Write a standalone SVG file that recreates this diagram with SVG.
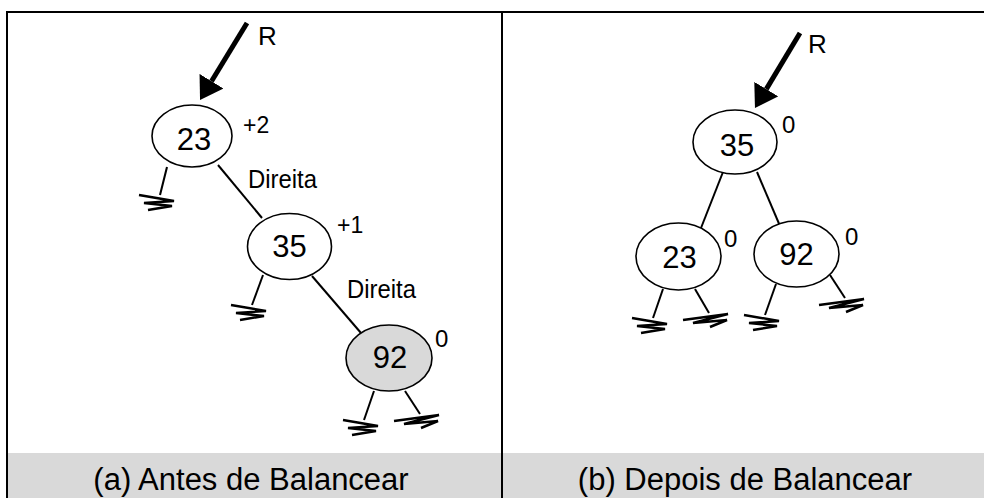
<svg xmlns="http://www.w3.org/2000/svg" xmlns:xlink="http://www.w3.org/1999/xlink" width="984" height="498" viewBox="0 0 984 498">
<style>
  text { font-family: "Liberation Sans", Arial, sans-serif; fill: #000; }
  .node { fill: #fff; stroke: #000; stroke-width: 1.6; }
  .gray { fill: #d9d9d9; }
  .num { font-size: 31px; text-anchor: middle; }
  .bal { font-size: 23px; }
  .zero { font-size: 24px; }
  .lbl { font-size: 25px; }
  .cap { font-size: 31px; text-anchor: middle; }
  .edge { stroke: #000; stroke-width: 2; fill: none; }
  .ptr { stroke: #000; stroke-width: 5; fill: none; }
  .gnd { stroke: #000; stroke-width: 2.5; fill: none; stroke-linejoin: miter; }
</style>
<defs>
  <marker id="head" markerUnits="userSpaceOnUse" markerWidth="22" markerHeight="28" viewBox="0 0 22 28" refX="0" refY="14" orient="auto">
    <path d="M0,0 L22,14 L0,28 z" fill="#000"/>
  </marker>
  <path id="gndL" class="gnd" d="M-21,0 L14,6 L-16,8 L12,11 L-12,15"/>
  <path id="gndR" class="gnd" d="M-26,7 L19,1 L-16,10 L18,7 L1,14"/>
</defs>

<!-- frame -->
<g id="frame">
  <rect x="8" y="453" width="976" height="45" fill="#d9d9d9"/>
  <line x1="6" y1="12" x2="984" y2="12" stroke="#000" stroke-width="2"/>
  <line x1="7" y1="11" x2="7" y2="498" stroke="#000" stroke-width="2"/>
  <line x1="502" y1="11" x2="502" y2="498" stroke="#000" stroke-width="2"/>
</g>

<g id="connectors">
  <!-- panel a -->
  <line class="ptr" x1="247" y1="23" x2="211.5" y2="81.2" marker-end="url(#head)"/>
  <line class="edge" x1="218" y1="165" x2="262" y2="218"/>
  <line class="edge" x1="312" y1="276" x2="361" y2="333"/>
  <line class="edge" x1="167" y1="167" x2="160" y2="195"/>
  <line class="edge" x1="263" y1="275" x2="252" y2="305"/>
  <line class="edge" x1="374" y1="391" x2="364" y2="420"/>
  <line class="edge" x1="405" y1="391" x2="420" y2="414"/>
  <use xlink:href="#gndL" x="160" y="195"/>
  <use xlink:href="#gndL" x="252" y="305"/>
  <use xlink:href="#gndL" x="364" y="420"/>
  <use xlink:href="#gndR" x="420" y="414"/>
  <!-- panel b -->
  <line class="ptr" x1="800" y1="33" x2="766.3" y2="89.1" marker-end="url(#head)"/>
  <line class="edge" x1="723" y1="172" x2="701" y2="228"/>
  <line class="edge" x1="757" y1="172" x2="780" y2="226"/>
  <line class="edge" x1="663" y1="289" x2="653" y2="318"/>
  <line class="edge" x1="695" y1="289" x2="709" y2="313"/>
  <line class="edge" x1="776" y1="284" x2="765" y2="315"/>
  <line class="edge" x1="830" y1="275" x2="845" y2="298"/>
  <use xlink:href="#gndL" x="653" y="318"/>
  <use xlink:href="#gndR" x="709" y="313"/>
  <use xlink:href="#gndL" x="765" y="315"/>
  <use xlink:href="#gndR" x="845" y="298"/>
</g>

<!-- labels -->
<text x="258" y="45" style="font-size:26px">R</text>
<text x="808" y="53" style="font-size:26px">R</text>
<text class="lbl" x="248" y="188" textLength="69" lengthAdjust="spacingAndGlyphs">Direita</text>
<text class="lbl" x="347" y="298" textLength="69" lengthAdjust="spacingAndGlyphs">Direita</text>

<!-- panel a nodes -->
<g id="a23">
  <ellipse class="node" cx="192" cy="136" rx="40" ry="31"/>
  <text class="num" x="194" y="150">23</text>
  <text class="bal" x="243" y="133">+2</text>
</g>
<g id="a35">
  <ellipse class="node" cx="289.5" cy="246.5" rx="42" ry="33"/>
  <text class="num" x="289.5" y="257">35</text>
  <text class="bal" x="337" y="233">+1</text>
</g>
<g id="a92">
  <ellipse class="node gray" cx="389" cy="358" rx="43" ry="33"/>
  <text class="num" x="390" y="368">92</text>
  <text class="zero" x="435" y="347">0</text>
</g>

<!-- panel b nodes -->
<g id="b35">
  <ellipse class="node" cx="735" cy="142" rx="42" ry="32"/>
  <text class="num" x="737" y="156">35</text>
  <text class="zero" x="782" y="133">0</text>
</g>
<g id="b23">
  <ellipse class="node" cx="678.5" cy="256.5" rx="42.5" ry="33.5"/>
  <text class="num" x="679.5" y="268">23</text>
  <text class="zero" x="724" y="247">0</text>
</g>
<g id="b92">
  <ellipse class="node" cx="796.5" cy="254" rx="42.5" ry="33"/>
  <text class="num" x="796.5" y="265">92</text>
  <text class="zero" x="845" y="245">0</text>
</g>

<!-- captions -->
<text class="cap" x="251" y="490">(a) Antes de Balancear</text>
<text class="cap" x="745" y="490">(b) Depois de Balancear</text>
</svg>
